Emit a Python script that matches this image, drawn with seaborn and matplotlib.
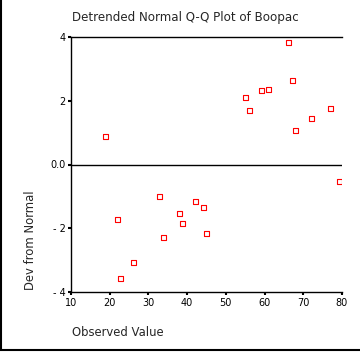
import matplotlib
matplotlib.use("Agg")
import matplotlib.pyplot as plt
import seaborn as sns
import pandas as pd
from matplotlib.lines import Line2D

observed = [18.8, 22.0, 22.9, 26.1, 32.8, 33.9, 38.0, 38.9, 42.1, 44.2, 45.0,
            55.2, 56.1, 59.3, 61.1, 66.1, 67.1, 67.9, 72.0, 77.0, 79.4]
deviation = [0.88, -1.74, -3.58, -3.09, -1.01, -2.28, -1.54, -1.85, -1.15, -1.36, -2.16,
             2.10, 1.70, 2.32, 2.36, 3.83, 2.62, 1.07, 1.43, 1.75, -0.52]
x_ticks = [10, 20, 30, 40, 50, 60, 70, 80]
y_ticks = [-4, -2, 0, 2, 4]
y_tick_labels = ["- 4", "- 2", "0.0", "2", "4"]

df = pd.DataFrame({"Observed Value": observed, "Dev from Normal": deviation})

sns.set_style("white")
plt.rcParams['font.family'] = ['DejaVu Sans']

fig = plt.figure(figsize=(3.6, 3.52), dpi=100)
ax = fig.add_axes([71/360, 1-292/352, (342-71)/360, (292-37)/352])

sns.scatterplot(data=df, x="Observed Value", y="Dev from Normal", ax=ax,
                marker="s", s=13, facecolors="none", edgecolor="red",
                linewidth=0.8, zorder=3)
for c in ax.collections:
    c.set_facecolor("none")
    c.set_edgecolor("red")

ax.axhline(0, color="black", linewidth=1.0, zorder=2)
ax.set_xlim(10, 80)
ax.set_ylim(-4, 4)
ax.set_xticks(x_ticks)
ax.set_xticklabels([str(t) for t in x_ticks])
ax.set_yticks(y_ticks)
ax.set_yticklabels(y_tick_labels)
ax.tick_params(axis="both", labelsize=7, length=2, width=1.5, direction="out",
               colors="black", pad=2, left=True, bottom=True)
for s in ["left", "bottom", "top"]:
    ax.spines[s].set_visible(True)
    ax.spines[s].set_color("black")
    ax.spines[s].set_linewidth(1.0)
ax.spines["right"].set_visible(False)
ax.set_xlabel("")
ax.set_ylabel("")

fig.text(72/360, 1-18/352, "Detrended Normal Q-Q Plot of Boopac",
         ha="left", va="center", fontsize=8.6)
fig.text(72/360, 1-333/352, "Observed Value", ha="left", va="center", fontsize=8.4)
fig.text(31/360, 1-290/352, "Dev from Normal", ha="center", va="bottom",
         rotation=90, fontsize=8.4)

# figure frame on left and bottom
fig.add_artist(Line2D([0.5/360, 0.5/360], [1-350/352, 1], transform=fig.transFigure,
                      color="black", linewidth=1.5))
fig.add_artist(Line2D([0, 1], [1-350/352, 1-350/352], transform=fig.transFigure,
                      color="black", linewidth=1.5))

fig.savefig("out.png", dpi=100)
